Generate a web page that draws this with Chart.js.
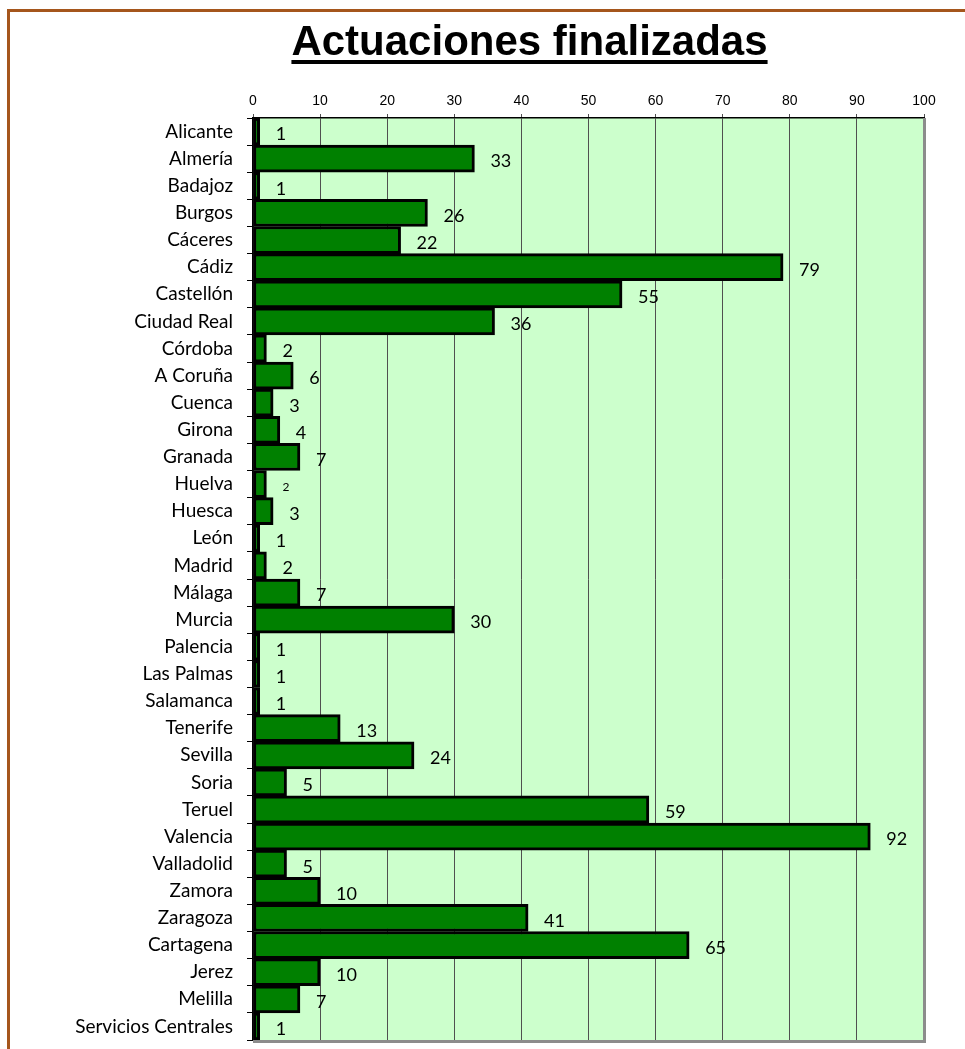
<!DOCTYPE html>
<html>
<head>
<meta charset="utf-8">
<title>Actuaciones finalizadas</title>
<script src="https://cdn.jsdelivr.net/npm/chart.js@4.4.1/dist/chart.umd.min.js"></script>
<style>
  html, body { margin: 0; padding: 0; background: #fff; }
  #wrap { position: relative; width: 965px; height: 1049px; overflow: hidden; }
  #frame { position: absolute; left: 7px; top: 9px; width: 1000px; height: 1100px; border: 3px solid #a5561c; }
  #chart { position: absolute; left: 0; top: 0; }
</style>
</head>
<body>
<div id="wrap">
  <div id="frame"></div>
  <canvas id="chart" width="965" height="1049"></canvas>
</div>
<script>
const title = 'Actuaciones finalizadas';

const categories = [
    'Alicante', 'Almería', 'Badajoz', 'Burgos', 'Cáceres', 'Cádiz', 'Castellón',
    'Ciudad Real', 'Córdoba', 'A Coruña', 'Cuenca', 'Girona', 'Granada', 'Huelva',
    'Huesca', 'León', 'Madrid', 'Málaga', 'Murcia', 'Palencia', 'Las Palmas',
    'Salamanca', 'Tenerife', 'Sevilla', 'Soria', 'Teruel', 'Valencia', 'Valladolid',
    'Zamora', 'Zaragoza', 'Cartagena', 'Jerez', 'Melilla', 'Servicios Centrales'
];

const values = [
    1, 33, 1, 26, 22, 79, 55,
    36, 2, 6, 3, 4, 7, 2,
    3, 1, 2, 7, 30, 1, 1,
    1, 13, 24, 5, 59, 92, 5,
    10, 41, 65, 10, 7, 1
];

const xTicks = [0, 10, 20, 30, 40, 50, 60, 70, 80, 90, 100];

// the Huelva label is printed smaller in the original
const smallLabels = ['Huelva'];

// green plot area + grey shadow on the right / bottom
const plotArea = {
    id: 'plotArea',
    beforeDraw(chart) {
        const { ctx, chartArea: a } = chart;
        ctx.save();
        ctx.fillStyle = '#ccffcc';
        ctx.fillRect(a.left, a.top, a.right - a.left, a.bottom - a.top);
        ctx.restore();
    },
    afterDraw(chart) {
        const { ctx, chartArea: a } = chart;
        ctx.save();
        ctx.strokeStyle = '#8c8c8c';
        ctx.lineWidth = 3;
        ctx.beginPath();
        ctx.moveTo(a.right + 0.5, a.top);
        ctx.lineTo(a.right + 0.5, a.bottom + 1.5);
        ctx.lineTo(a.left, a.bottom + 1.5);
        ctx.stroke();

        // underlined title
        ctx.font = 'bold 42px "Liberation Sans", Arial, sans-serif';
        ctx.fillStyle = '#000';
        ctx.textAlign = 'center';
        ctx.textBaseline = 'alphabetic';
        const cx = 529.5;
        ctx.fillText(title, cx, 55);
        const w = ctx.measureText(title).width;
        ctx.fillRect(cx - w / 2, 60, w, 4);
        ctx.restore();
    }
};

// value next to the end of each bar
const valueLabels = {
    id: 'valueLabels',
    afterDatasetsDraw(chart) {
        const { ctx } = chart;
        const xScale = chart.scales.x;
        const meta = chart.getDatasetMeta(0);
        ctx.save();
        ctx.fillStyle = '#000';
        ctx.textAlign = 'left';
        ctx.textBaseline = 'middle';
        meta.data.forEach((bar, i) => {
            const small = smallLabels.includes(categories[i]);
            ctx.font = (small ? 12 : 18) + 'px Lato, "Open Sans", sans-serif';
            const x = xScale.getPixelForValue(values[i]) + 16;
            ctx.fillText(String(values[i]), x, bar.y + 3);
        });
        ctx.restore();
    }
};

new Chart(document.getElementById('chart'), {
    type: 'bar',
    data: {
        labels: categories,
        datasets: [{
            data: values,
            backgroundColor: '#008000',
            borderColor: '#000000',
            borderWidth: 3,
            borderSkipped: false,
            barPercentage: 1,
            categoryPercentage: 1
        }]
    },
    options: {
        indexAxis: 'y',
        responsive: false,
        animation: false,
        layout: { padding: { top: 0, left: 0, right: 41, bottom: 9 } },
        plugins: {
            legend: { display: false },
            tooltip: { enabled: false },
            title: { display: false }
        },
        scales: {
            x: {
                position: 'top',
                min: 0,
                max: 100,
                afterFit: s => { s.height = 118; },
                afterBuildTicks: s => { s.ticks = xTicks.map(v => ({ value: v })); },
                grid: { color: '#505050', lineWidth: 1, tickLength: 4 },
                border: { color: '#000', width: 1.5 },
                ticks: {
                    font: { family: '"Liberation Sans", Arial, sans-serif', size: 14 },
                    color: '#000',
                    padding: 4,
                    autoSkip: false,
                    maxRotation: 0
                }
            },
            y: {
                afterFit: s => {
                    s.width = 253;
                    s.paddingTop = 0;
                    s.paddingBottom = 0;
                },
                grid: { drawOnChartArea: false, tickLength: 6, color: '#000', offset: true },
                border: { color: '#000', width: 1.5 },
                ticks: {
                    font: { family: 'Lato, "Open Sans", sans-serif', size: 19 },
                    color: '#000',
                    padding: 14,
                    autoSkip: false
                }
            }
        }
    },
    plugins: [plotArea, valueLabels]
});
</script>
</body>
</html>
